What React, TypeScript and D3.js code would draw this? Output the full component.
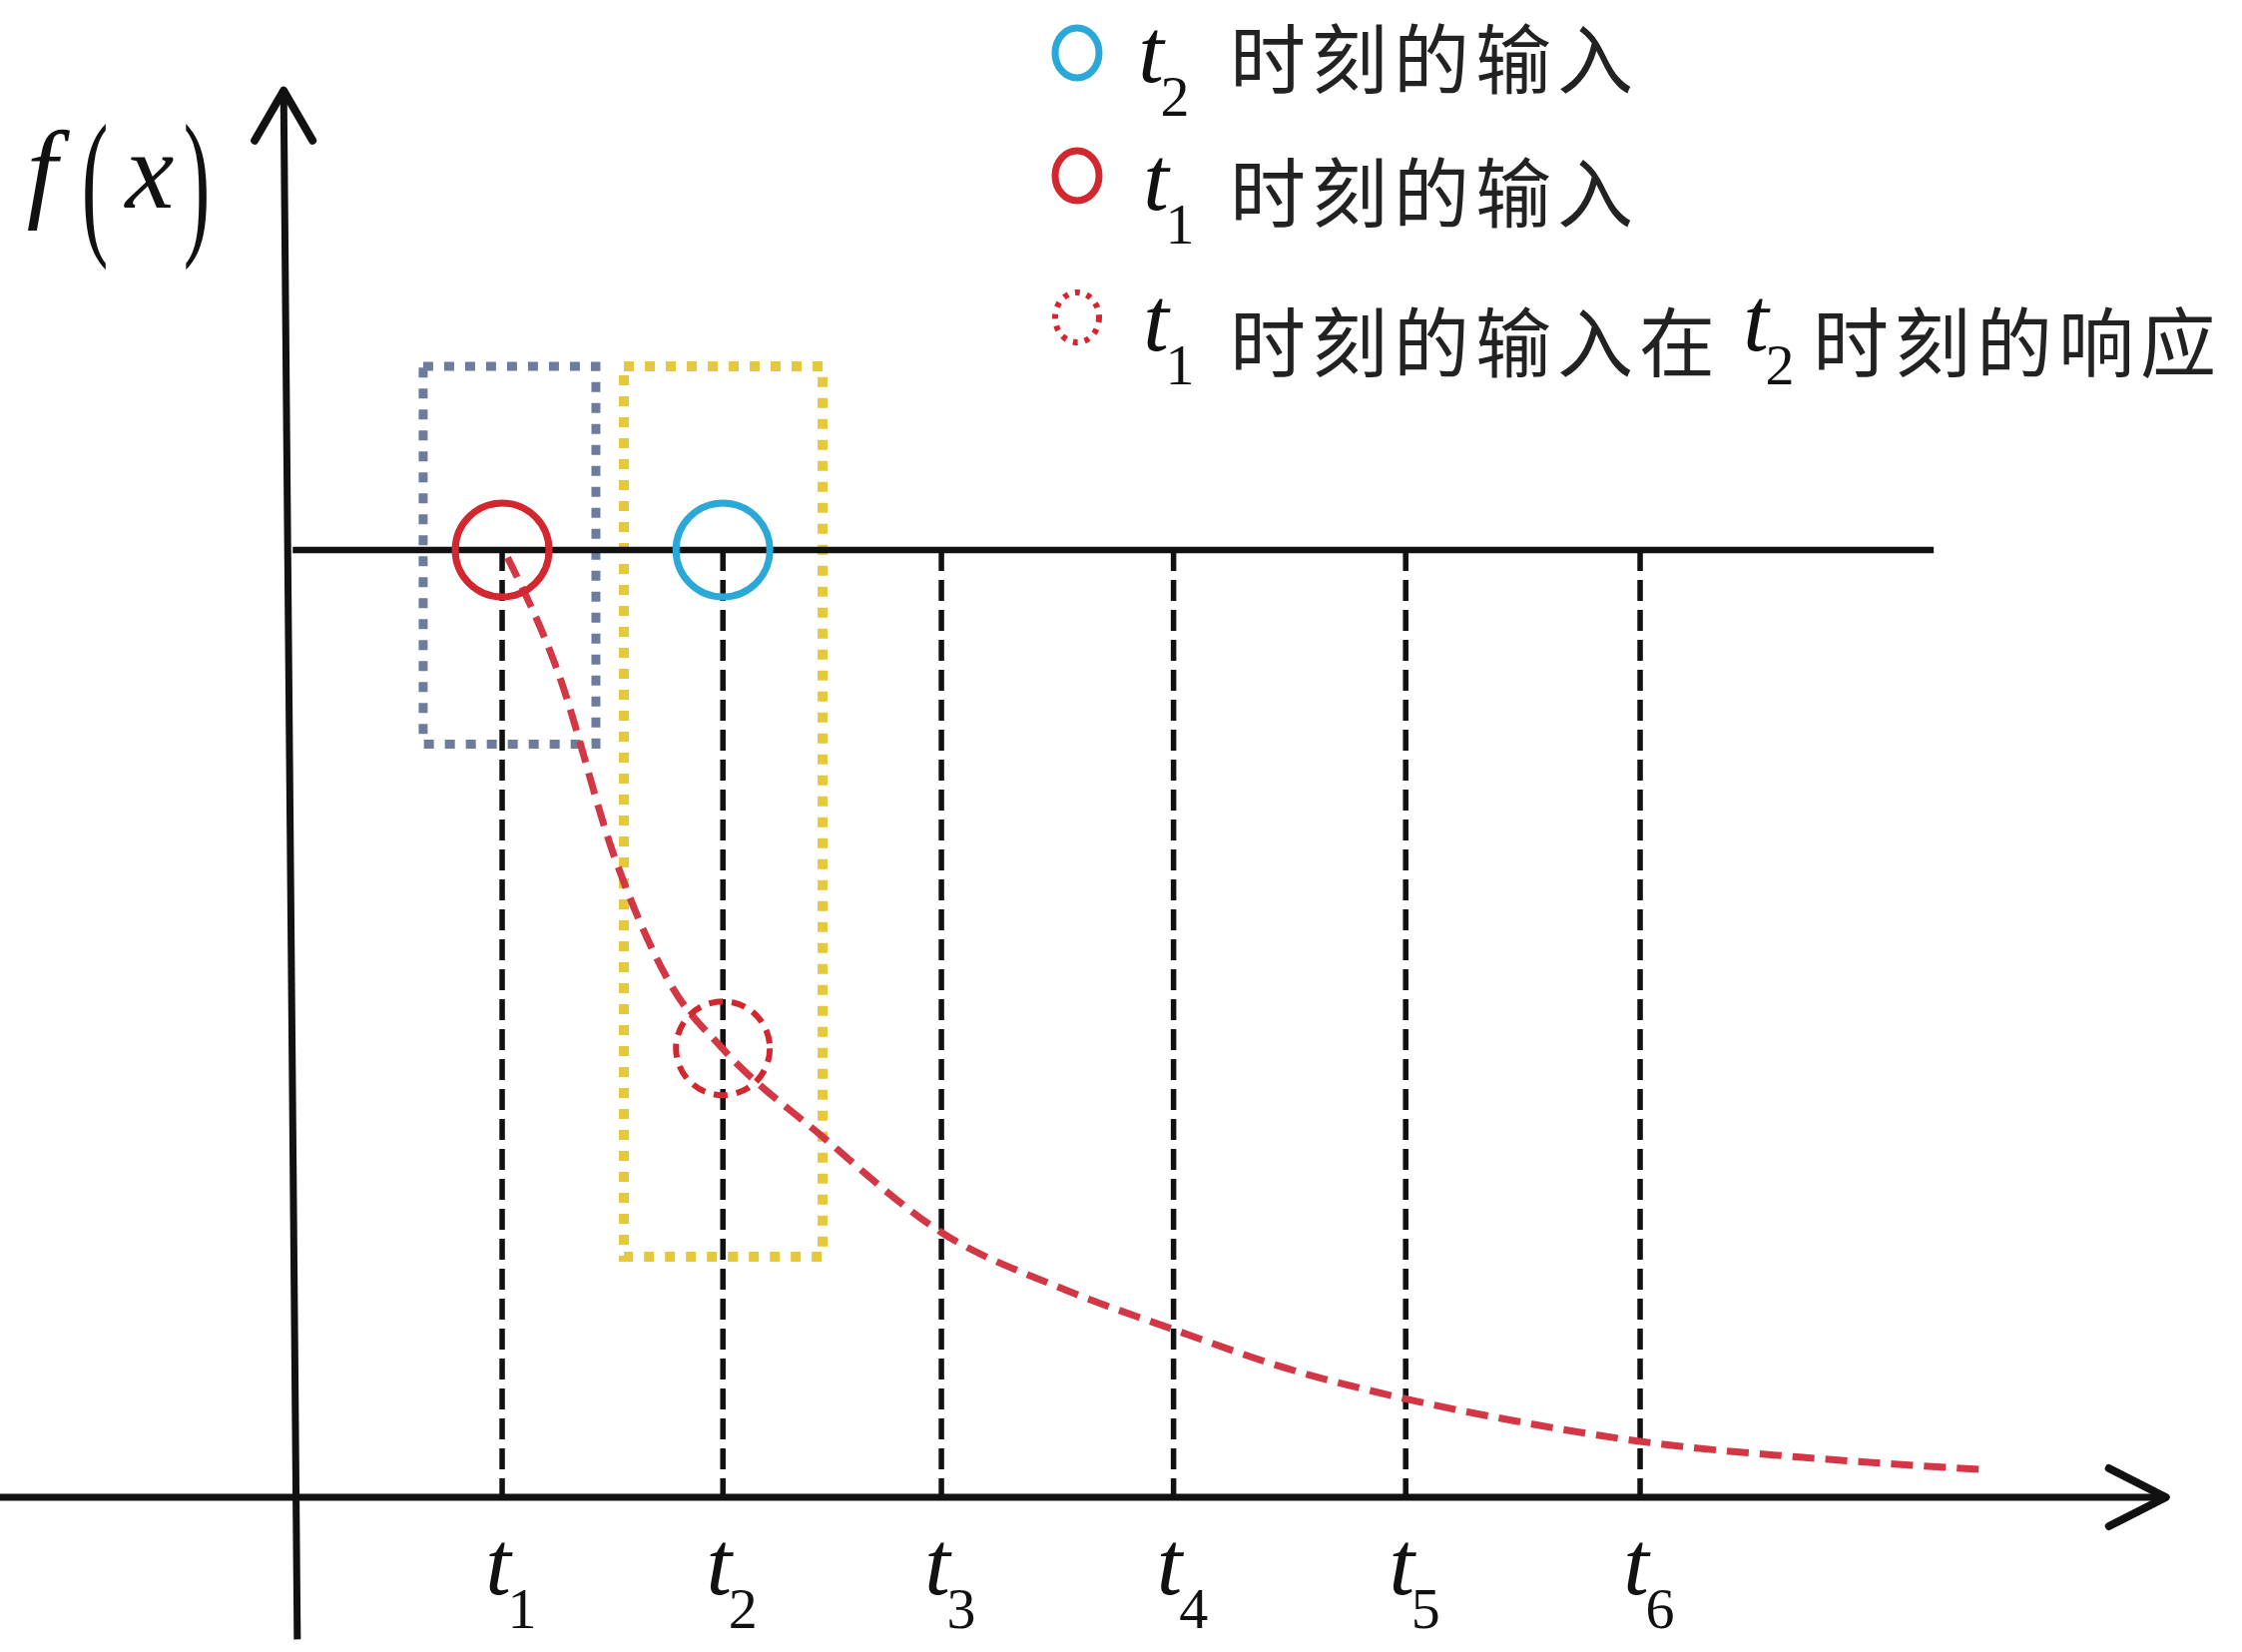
import * as d3 from "d3";

// time marks t1..t6 (in "t units", origin at the f(x) axis)
const TICK_NAMES = ["1", "2", "3", "4", "5", "6"];
const TICK_POS = [0.93, 1.9, 2.86, 3.88, 4.9, 5.93];

// decaying response of the t1 input
const CURVE_X = [0.954, 1.174, 1.425, 1.676, 1.897, 2.336, 2.864, 3.373, 3.882, 4.378, 4.899, 5.415, 5.93, 6.702, 7.456];
const CURVE_Y = [0.992, 0.872, 0.675, 0.539, 0.474, 0.381, 0.279, 0.222, 0.177, 0.136, 0.104, 0.079, 0.059, 0.041, 0.029];

const INPUT_LEVEL = 1;
const LEVEL_END = 7.22;
const RESPONSE_AT_T2 = 0.474;

// highlight boxes [x0, x1, y0, y1]
const BLUE_BOX = [0.583, 1.342, 0.795, 1.194];
const YELLOW_BOX = [1.465, 2.338, 0.254, 1.194];

const X_AXIS = [-1.3, 8.24];
const Y_AXIS = [-0.15, 1.485];

const W = 2246;
const H = 1655;

const RED = "#d3272f";
const BLUE = "#2aa9d9";
const CURVE_RED = "#d33644";
const SLATE = "#6d7b9c";
const YELLOW = "#e6c93a";
const CJK = "'Noto Sans CJK SC', 'Noto Sans', sans-serif";
const MATH = "'Liberation Serif', 'DejaVu Serif', serif";

function SubT({ x, y, sub, size = 92, subSize = 58, dx = 24, dy = 34 }: any) {
  return (
    <g>
      <text x={x} y={y} fontFamily={MATH} fontStyle="italic" fontSize={size} textAnchor="middle" fill="#111">
        t
      </text>
      <text x={x + dx} y={y + dy} fontFamily={MATH} fontSize={subSize} textAnchor="middle" fill="#111">
        {sub}
      </text>
    </g>
  );
}

export default function App() {
  const x = d3.scaleLinear().domain([0, 1]).range([291, 519]);
  const y = d3.scaleLinear().domain([0, 1]).range([1500, 551]);

  const curvePts: [number, number][] = CURVE_X.map((v, i) => [v, CURVE_Y[i]]);
  const line = d3
    .line<[number, number]>()
    .x((d) => x(d[0]))
    .y((d) => y(d[1]))
    .curve(d3.curveMonotoneX);

  const box = (b: number[], color: string, sw: number) => (
    <rect
      x={x(b[0])}
      y={y(b[3])}
      width={x(b[1]) - x(b[0])}
      height={y(b[2]) - y(b[3])}
      fill="none"
      stroke={color}
      strokeWidth={sw}
      strokeDasharray="10 11"
    />
  );

  const xTip = x(X_AXIS[1]);
  const yTop = y(Y_AXIS[1]);

  return (
    <svg
      width={W}
      height={H}
      viewBox={`0 0 ${W} ${H}`}
      style={{ position: "absolute", left: 0, top: 0, background: "#fff" }}
    >
      <rect width={W} height={H} fill="#fff" />

      {/* dotted highlight boxes */}
      {box(BLUE_BOX, SLATE, 9)}
      {box(YELLOW_BOX, YELLOW, 10)}

      {/* input level */}
      <line x1={x(0.01)} x2={x(LEVEL_END)} y1={y(INPUT_LEVEL)} y2={y(INPUT_LEVEL)} stroke="#111" strokeWidth={6.5} />

      {/* sampling instants */}
      {TICK_POS.map((t, i) => (
        <line
          key={i}
          x1={x(t)}
          x2={x(t)}
          y1={y(INPUT_LEVEL)}
          y2={y(0)}
          stroke="#111"
          strokeWidth={5.5}
          strokeDasharray="21 9"
        />
      ))}

      {/* response curve */}
      <path d={line(curvePts) ?? ""} fill="none" stroke={CURVE_RED} strokeWidth={7} strokeDasharray="22 11" />

      {/* axes */}
      <line x1={x(X_AXIS[0])} x2={xTip} y1={y(0)} y2={y(0)} stroke="#111" strokeWidth={7} />
      <polyline
        points={`${xTip - 57},${y(0) - 29} ${xTip},${y(0)} ${xTip - 57},${y(0) + 29}`}
        fill="none"
        stroke="#111"
        strokeWidth={8}
        strokeLinecap="round"
        strokeLinejoin="round"
      />
      <line x1={x(0.03)} x2={x(-0.03)} y1={y(Y_AXIS[0])} y2={yTop} stroke="#111" strokeWidth={7} />
      <polyline
        points={`${x(-0.03) - 29},${yTop + 50} ${x(-0.03)},${yTop} ${x(-0.03) + 29},${yTop + 50}`}
        fill="none"
        stroke="#111"
        strokeWidth={8}
        strokeLinecap="round"
        strokeLinejoin="round"
      />

      {/* inputs and response markers */}
      <circle cx={x(TICK_POS[0])} cy={y(INPUT_LEVEL)} r={47} fill="none" stroke={RED} strokeWidth={7} />
      <circle cx={x(TICK_POS[1])} cy={y(INPUT_LEVEL)} r={47} fill="none" stroke={BLUE} strokeWidth={7} />
      <circle
        cx={x(TICK_POS[1])}
        cy={y(RESPONSE_AT_T2)}
        r={47}
        fill="none"
        stroke={RED}
        strokeWidth={6}
        strokeDasharray="14 9"
      />

      {/* tick labels */}
      {TICK_POS.map((t, i) => (
        <SubT key={i} x={x(t) - 4} y={1597} sub={TICK_NAMES[i]} />
      ))}

      {/* f(x) */}
      <g fill="#111">
        <text x={42} y={208} fontFamily={MATH} fontStyle="italic" fontSize={110} textAnchor="middle">
          f
        </text>
        <text x={95} y={236} fontFamily={MATH} fontSize={160} textAnchor="middle" transform="translate(95 0) scale(0.5 1) translate(-95 0)">
          (
        </text>
        <text x={150} y={208} fontFamily={MATH} fontStyle="italic" fontSize={110} textAnchor="middle">
          x
        </text>
        <text x={197} y={236} fontFamily={MATH} fontSize={160} textAnchor="middle" transform="translate(197 0) scale(0.5 1) translate(-197 0)">
          )
        </text>
      </g>

      {/* legend */}
      <ellipse cx={1079} cy={53} rx={22} ry={25} fill="none" stroke={BLUE} strokeWidth={7} />
      <ellipse cx={1079} cy={176} rx={22} ry={25} fill="none" stroke={RED} strokeWidth={7} />
      <ellipse cx={1079} cy={318} rx={22} ry={25} fill="none" stroke={RED} strokeWidth={6} strokeDasharray="5 7" />

      <SubT x={1153} y={82} sub="2" />
      <SubT x={1158} y={210} sub="1" />
      <SubT x={1158} y={351} sub="1" />
      <SubT x={1759} y={351} sub="2" />

      <g fontFamily={CJK} fontSize={76} fill="#222" letterSpacing={6}>
        <text x={1232} y={88}>时刻的输入</text>
        <text x={1232} y={222}>时刻的输入</text>
        <text x={1232} y={372}>时刻的输入在</text>
        <text x={1816} y={372}>时刻的响应</text>
      </g>
    </svg>
  );
}
